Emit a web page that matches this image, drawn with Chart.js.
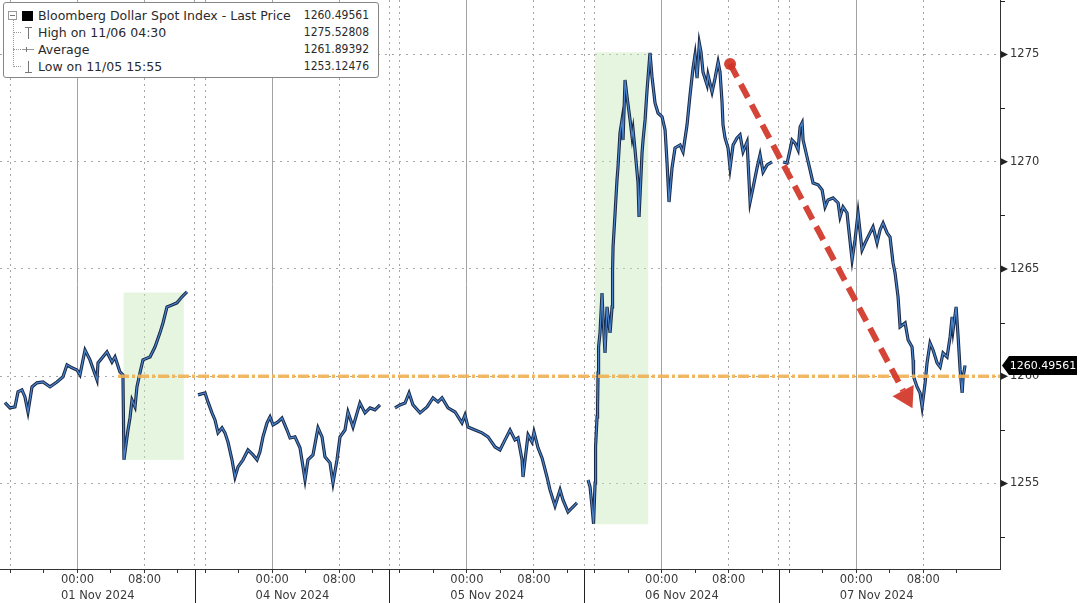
<!DOCTYPE html>
<html>
<head>
<meta charset="utf-8">
<title>Bloomberg Dollar Spot Index</title>
<script src="https://cdn.jsdelivr.net/npm/chart.js@4.4.1/dist/chart.umd.min.js"></script>
<style>
  html, body { margin: 0; padding: 0; background: #fff; }
  #wrap { position: relative; width: 1080px; height: 603px; overflow: hidden; }
  #legend { position: absolute; left: 3px; top: 2px; width: 376px; height: 76px; box-sizing: border-box;
            border: 1px solid #858585; border-radius: 3px; background: #fff;
            font-family: "DejaVu Sans", sans-serif; font-size: 12.5px; color: #2a2a2a; }
  #legend .row { position: absolute; left: 0; right: 0; height: 17px; line-height: 17px; white-space: nowrap; }
  #legend .name { position: absolute; left: 34px; top: 0; }
  #legend .val { position: absolute; right: 9px; top: 0; font-family: "DejaVu Sans Condensed", "DejaVu Sans", sans-serif; font-size: 12px; }
  #legend .tree { position: absolute; left: 9px; top: 16px; height: 48px; border-left: 1px dotted #9a9a9a; }
  #legend .branch { position: absolute; left: 9px; width: 8px; border-top: 1px dotted #9a9a9a; }
  #legend .minus { position: absolute; left: 4px; top: 8px; width: 7px; height: 7px; border: 1px solid #9a9a9a; background: #fff; }
  #legend .minus:after { content: ""; position: absolute; left: 1px; right: 1px; top: 3px; border-top: 1px solid #777; }
  #legend .sq { position: absolute; left: 18px; top: 4px; width: 11px; height: 10px; background: #000; }
  #legend .hi, #legend .lo { position: absolute; left: 21px; top: 3px; width: 7px; height: 11px; }
  #legend .hi { border-top: 1px solid #777; }
  #legend .lo { border-bottom: 1px solid #777; }
  #legend .hi:after, #legend .lo:after { content: ""; position: absolute; left: 3px; top: 0; bottom: 0; border-left: 1px solid #777; }
  #legend .avg { position: absolute; left: 18px; top: 8px; width: 12px; border-top: 1px solid #999; }
  #legend .avg:after { content: ""; position: absolute; left: 4px; top: -3px; width: 1px; height: 5px; background: #777; }
</style>
</head>
<body>
<div id="wrap">
  <canvas id="chart" width="1080" height="603"></canvas>
  <div id="legend"></div>
</div>
<script>
// sessions shown on the axis (each block opens 14:45 the previous day)
var sessionLabels = ["01 Nov 2024", "04 Nov 2024", "05 Nov 2024", "06 Nov 2024", "07 Nov 2024"];

// hours relative to the session's midnight, and index level
var nov01Hours = [-8.66, -8.06, -7.46, -7.10, -6.63, -6.27, -5.91, -5.43, -4.84, -4.12, -3.28, -2.45, -1.73, -1.25, -0.66,
  -0.06, 0.30, 0.90, 1.49, 2.33, 2.45, 3.52, 4.12, 4.48, 5.07, 5.43, 5.55, 5.79, 6.03, 6.27, 6.51, 6.87, 7.10, 7.46, 7.82,
  8.66, 9.25, 9.85, 10.21, 10.69, 11.28, 11.88, 12.48, 13.07];
var nov01Prices = [1258.77, 1258.52, 1258.57, 1259.27, 1259.36, 1259.03, 1258.33, 1259.50, 1259.69, 1259.73, 1259.50, 1259.73,
  1259.97, 1260.53, 1260.39, 1260.29, 1260.06, 1261.22, 1260.76, 1259.83, 1260.62, 1261.13, 1260.66, 1260.90, 1260.20,
  1260.06, 1256.10, 1256.80, 1257.49, 1258.05, 1258.89, 1258.57, 1259.50, 1260.15, 1260.76, 1260.90, 1261.36, 1262.02,
  1262.48, 1263.23, 1263.32, 1263.42, 1263.70, 1263.93];

var nov04Hours = [-8.86, -8.02, -7.67, -7.19, -6.83, -6.47, -5.99, -5.64, -5.28, -4.80, -4.44, -4.08, -3.49, -2.89, -2.29,
  -1.81, -1.46, -1.10, -0.62, -0.26, 0.10, 0.69, 1.17, 1.77, 2.13, 2.72, 3.32, 3.92, 4.27, 4.87, 5.47, 5.95, 6.30, 6.90,
  7.26, 7.74, 8.10, 8.69, 9.05, 9.65, 10.24, 10.48, 11.08, 11.68, 12.27, 12.87];
var nov04Prices = [1259.13, 1259.22, 1258.80, 1258.29, 1257.96, 1257.36, 1257.59, 1257.36, 1256.93, 1256.10, 1255.30, 1255.77,
  1256.10, 1256.56, 1256.33, 1256.10, 1256.47, 1257.17, 1257.82, 1258.10, 1257.73, 1257.87, 1258.05, 1257.49, 1257.12,
  1257.17, 1256.66, 1255.17, 1256.10, 1256.33, 1257.59, 1257.17, 1256.24, 1255.96, 1255.02, 1256.10, 1257.17, 1257.49,
  1258.33, 1257.63, 1258.43, 1258.75, 1258.29, 1258.52, 1258.43, 1258.66];

var nov05Hours = [-8.59, -7.99, -7.39, -6.91, -6.44, -5.60, -4.76, -4.05, -3.45, -2.97, -2.26, -1.42, -0.59, -0.23, 0.13,
  0.97, 1.80, 2.52, 3.36, 3.95, 4.55, 5.15, 5.74, 6.10, 6.58, 6.70, 6.94, 7.30, 7.77, 8.01, 8.49, 8.97, 9.56, 9.92, 10.52,
  11.12, 11.47, 12.07, 12.67, 13.14];
var nov05Prices = [1258.52, 1258.66, 1258.75, 1259.22, 1258.66, 1258.29, 1258.57, 1258.99, 1258.80, 1258.99, 1258.52, 1258.33,
  1257.82, 1258.19, 1257.63, 1257.49, 1257.36, 1257.17, 1256.70, 1256.56, 1257.03, 1257.49, 1257.03, 1257.12, 1256.10,
  1255.30, 1256.10, 1257.26, 1256.93, 1257.40, 1256.66, 1256.19, 1255.30, 1254.70, 1253.95, 1254.70, 1254.23, 1253.67,
  1253.91, 1254.09];

var nov06Hours = [-8.79, -8.55, -8.31, -8.13, -7.95, -7.89, -7.71, -7.65, -7.59, -7.53, -7.36, -7.12, -7.00, -6.76, -6.52,
  -6.16, -5.92, -5.86, -5.80, -5.56, -5.33, -5.21, -4.97, -4.73, -4.61, -4.37, -4.13, -3.77, -3.53, -3.41, -3.18, -2.82,
  -2.70, -2.34, -2.22, -1.98, -1.74, -1.39, -1.15, -0.79, -0.43, 0.05, 0.41, 0.64, 0.88, 1.24, 1.60, 2.20, 2.56, 3.03,
  3.39, 3.75, 3.99, 4.23, 4.50, 4.70, 4.94, 5.42, 5.54, 6.02, 6.38, 6.74, 6.97, 7.21, 7.33, 7.57, 7.93, 8.17, 8.53, 9.00,
  9.36, 9.72, 10.20, 10.56, 10.91, 11.39, 11.75, 12.11, 12.59, 13.18];
var nov06Prices = [1255.16, 1254.84, 1253.91, 1253.12, 1255.02, 1256.70, 1258.10, 1258.57, 1260.15, 1261.36, 1262.02, 1263.88,
  1262.76, 1261.08, 1263.23, 1262.02, 1263.23, 1264.95, 1266.03, 1267.61, 1269.15, 1269.76, 1271.34, 1271.95, 1271.01,
  1273.81, 1273.02, 1271.95, 1271.16, 1271.48, 1270.55, 1269.01, 1267.43, 1270.41, 1271.01, 1271.95, 1273.35, 1275.07,
  1273.95, 1272.74, 1272.27, 1272.09, 1271.48, 1269.99, 1268.12, 1269.71, 1270.64, 1270.78, 1270.46, 1271.71, 1273.11,
  1274.37, 1274.98, 1273.90, 1275.53, 1275.12, 1274.18, 1273.58, 1274.04, 1273.25, 1273.90, 1274.65, 1274.18, 1272.79,
  1271.71, 1271.11, 1270.64, 1269.71, 1270.78, 1271.11, 1271.25, 1270.46, 1270.92, 1268.12, 1268.78, 1269.71, 1270.32,
  1269.52, 1269.85, 1269.99];

var nov07Hours = [-8.75, -8.27, -7.92, -7.68, -7.32, -6.96, -6.72, -6.48, -6.36, -5.89, -5.53, -5.17, -4.57, -4.09, -3.74,
  -3.38, -2.78, -2.18, -1.95, -1.59, -1.11, -0.99, -0.51, -0.16, 0.20, 0.68, 1.04, 1.63, 1.99, 2.47, 2.83, 3.19, 3.67,
  4.02, 4.38, 4.62, 4.98, 5.22, 5.82, 6.18, 6.65, 6.77, 6.83, 7.25, 7.61, 7.85, 8.21, 8.44, 8.80, 9.16, 9.64, 10.00,
  10.35, 10.83, 11.19, 11.43, 11.55, 11.91, 12.15, 12.39, 12.63, 12.75, 12.98];
var nov07Prices = [1269.99, 1269.94, 1270.55, 1271.01, 1270.87, 1270.55, 1271.62, 1271.81, 1271.01, 1270.22, 1269.62, 1269.01,
  1268.92, 1268.68, 1267.89, 1268.22, 1268.31, 1268.08, 1267.43, 1267.89, 1267.61, 1267.14, 1265.42, 1266.35, 1267.61,
  1265.89, 1266.21, 1266.68, 1266.96, 1266.21, 1266.82, 1267.14, 1266.68, 1266.49, 1265.28, 1264.81, 1263.69, 1262.30,
  1262.48, 1261.69, 1261.36, 1260.76, 1259.97, 1259.50, 1259.22, 1258.57, 1259.69, 1260.62, 1261.55, 1261.22, 1260.62,
  1260.43, 1261.08, 1260.90, 1261.83, 1262.76, 1262.16, 1263.23, 1261.83, 1260.29, 1259.22, 1259.97, 1260.49561];

var sessionHours = [nov01Hours, nov04Hours, nov05Hours, nov06Hours, nov07Hours];
var sessionPrices = [nov01Prices, nov04Prices, nov05Prices, nov06Prices, nov07Prices];

// axis marks: hours from midnight (16:00 prev day .. 12:00)
var markHours = [-8, -4, 0, 4, 8, 12];
var markLabels = { "0": "00:00", "8": "08:00" };
var yMajor = [1255, 1260, 1265, 1270, 1275];

// orange reference level
var levelPrice = 1260.0;
var levelStart = [0, 4.84];   // [session, hour]

// green highlight boxes
var shadeSession = [0, 3];
var shadeFromHour = [5.5, -7.95];
var shadeToHour = [12.7, -1.6];
var shadeLow = [1256.1, 1253.1];
var shadeHigh = [1263.9, 1275.1];

// red trend arrow
var arrowSession = [3, 4];
var arrowHour = [8.17, 6.7];
var arrowPrice = [1274.56, 1258.5];

var legendNames = ["Bloomberg Dollar Spot Index - Last Price", "High on 11/06 04:30", "Average", "Low on 11/05 15:55"];
var legendValues = ["1260.49561", "1275.52808", "1261.89392", "1253.12476"];
var lastPrice = 1260.49561;

var SESSION_LEN = 23.25;  // hours per block on the axis
var MIDNIGHT = 9.25;      // 00:00 sits this far into each block
var X_MAX = 119.4;
var Y_MIN = 1251.01;
var Y_MAX = 1277.54;
var FONT = '"DejaVu Sans", sans-serif';

function toX(session, hour) {
  return session * SESSION_LEN + MIDNIGHT + hour;
}

// legend
(function () {
  var icons = ["sq", "hi", "avg", "lo"];
  var tops = [4, 21, 38, 55];
  var html = '<div class="tree"></div><div class="minus"></div>';
  for (var i = 0; i < legendNames.length; i++) {
    if (i > 0) html += '<div class="branch" style="top:' + (tops[i] + 8) + 'px"></div>';
    html += '<div class="row" style="top:' + tops[i] + 'px"><span class="' + icons[i] + '"></span>' +
      '<span class="name">' + legendNames[i] + '</span><span class="val">' + legendValues[i] + '</span></div>';
  }
  document.getElementById("legend").innerHTML = html;
})();

// price series with breaks between sessions
var priceData = [];
sessionHours.forEach(function (hours, s) {
  if (s > 0) priceData.push({ x: s * SESSION_LEN, y: null });
  hours.forEach(function (h, i) {
    priceData.push({ x: toX(s, h), y: sessionPrices[s][i] });
  });
});

var levelData = [
  { x: toX(levelStart[0], levelStart[1]), y: levelPrice },
  { x: X_MAX, y: levelPrice }
];

function tickKind(ctx) {
  return ctx && ctx.tick ? ctx.tick.kind : null;
}

var decorPlugin = {
  id: "decor",
  beforeDatasetsDraw: function (chart) {
    var ctx = chart.ctx, x = chart.scales.x, y = chart.scales.y;
    ctx.save();
    ctx.fillStyle = "rgba(200, 232, 184, 0.45)";
    shadeSession.forEach(function (s, i) {
      var x0 = x.getPixelForValue(toX(s, shadeFromHour[i]));
      var x1 = x.getPixelForValue(toX(s, shadeToHour[i]));
      var y0 = y.getPixelForValue(shadeHigh[i]);
      var y1 = y.getPixelForValue(shadeLow[i]);
      ctx.fillRect(x0, y0, x1 - x0, y1 - y0);
    });
    ctx.restore();
  },
  afterDatasetsDraw: function (chart) {
    var ctx = chart.ctx, x = chart.scales.x, y = chart.scales.y;
    var ax = x.getPixelForValue(toX(arrowSession[0], arrowHour[0]));
    var ay = y.getPixelForValue(arrowPrice[0]);
    var bx = x.getPixelForValue(toX(arrowSession[1], arrowHour[1]));
    var by = y.getPixelForValue(arrowPrice[1]);
    var ang = Math.atan2(by - ay, bx - ax);
    var headLen = 20, headHalf = 12;
    var ex = bx - headLen * Math.cos(ang), ey = by - headLen * Math.sin(ang);
    var red = "rgba(208, 52, 38, 0.92)";
    ctx.save();
    ctx.strokeStyle = red;
    ctx.fillStyle = red;
    ctx.lineWidth = 6;
    ctx.setLineDash([15, 8]);
    ctx.beginPath();
    ctx.moveTo(ax, ay);
    ctx.lineTo(ex, ey);
    ctx.stroke();
    ctx.setLineDash([]);
    ctx.beginPath();
    ctx.arc(ax, ay, 6, 0, Math.PI * 2);
    ctx.fill();
    ctx.beginPath();
    ctx.moveTo(bx, by);
    ctx.lineTo(ex - headHalf * Math.sin(ang), ey + headHalf * Math.cos(ang));
    ctx.lineTo(ex + headHalf * Math.sin(ang), ey - headHalf * Math.cos(ang));
    ctx.closePath();
    ctx.fill();
    ctx.restore();
  },
  afterDraw: function (chart) {
    var ctx = chart.ctx, x = chart.scales.x, y = chart.scales.y, area = chart.chartArea;
    ctx.save();
    // session separators under the time axis
    ctx.strokeStyle = "#222";
    ctx.lineWidth = 1;
    for (var s = 1; s < sessionLabels.length; s++) {
      var sx = Math.round(x.getPixelForValue(s * SESSION_LEN)) + 0.5;
      ctx.beginPath();
      ctx.moveTo(sx, area.bottom);
      ctx.lineTo(sx, chart.height);
      ctx.stroke();
    }
    // date labels
    ctx.font = "11.5px " + FONT;
    ctx.fillStyle = "#3a3a3a";
    ctx.textBaseline = "middle";
    ctx.textAlign = "left";
    var half = ctx.measureText("00:00").width / 2;
    sessionLabels.forEach(function (label, i) {
      ctx.fillText(label, x.getPixelForValue(toX(i, 0)) - half, 596);
    });
    // price axis markers
    var axisX = area.right;
    ctx.fillStyle = "#222";
    ctx.strokeStyle = "#222";
    for (var v = 1252.5; v <= Y_MAX; v += 2.5) {
      var py = y.getPixelForValue(v);
      if (yMajor.indexOf(v) >= 0) {
        ctx.beginPath();
        ctx.moveTo(axisX + 1, py - 3.5);
        ctx.lineTo(axisX + 1, py + 3.5);
        ctx.lineTo(axisX + 8, py);
        ctx.closePath();
        ctx.fill();
      } else {
        ctx.beginPath();
        ctx.moveTo(axisX, Math.round(py) + 0.5);
        ctx.lineTo(axisX + 5, Math.round(py) + 0.5);
        ctx.stroke();
      }
    }
    // last price tag
    var ly = y.getPixelForValue(lastPrice);
    ctx.fillStyle = "#000";
    ctx.beginPath();
    ctx.moveTo(axisX + 2, ly);
    ctx.lineTo(axisX + 9, ly - 9.5);
    ctx.lineTo(chart.width - 3, ly - 9.5);
    ctx.lineTo(chart.width - 3, ly + 9.5);
    ctx.lineTo(axisX + 9, ly + 9.5);
    ctx.closePath();
    ctx.fill();
    ctx.fillStyle = "#fff";
    ctx.font = "11px " + FONT;
    ctx.textAlign = "center";
    ctx.fillText(lastPrice.toFixed(5), (axisX + 9 + chart.width - 3) / 2, ly + 0.5);
    ctx.restore();
  }
};

new Chart(document.getElementById("chart"), {
  type: "line",
  data: {
    datasets: [
      {
        label: "Level",
        data: levelData,
        borderColor: "rgba(240, 176, 84, 0.9)",
        borderWidth: 3.5,
        borderDash: [11, 3, 3, 3],
        pointRadius: 0,
        order: 0
      },
      {
        label: "Last Price",
        data: priceData,
        borderColor: "#4a86cf",
        borderWidth: 1.2,
        pointRadius: 0,
        spanGaps: false,
        order: 1
      },
      {
        label: "Last Price outline",
        data: priceData,
        borderColor: "#1b2946",
        borderWidth: 3.2,
        pointRadius: 0,
        spanGaps: false,
        order: 2
      }
    ]
  },
  options: {
    responsive: false,
    animation: false,
    layout: { padding: 0 },
    plugins: {
      legend: { display: false },
      tooltip: { enabled: false }
    },
    scales: {
      x: {
        type: "linear",
        min: 0,
        max: X_MAX,
        afterBuildTicks: function (scale) {
          var ticks = [];
          sessionLabels.forEach(function (label, s) {
            if (s > 0) ticks.push({ value: s * SESSION_LEN, kind: "sep" });
            markHours.forEach(function (h) {
              ticks.push({ value: toX(s, h), kind: "h" + h });
            });
          });
          scale.ticks = ticks;
        },
        afterFit: function (scale) { scale.height = 34; },
        ticks: {
          autoSkip: false,
          maxRotation: 0,
          padding: 0,
          color: "#3a3a3a",
          font: { family: FONT, size: 11.5 },
          callback: function (value, index, ticks) {
            var k = ticks[index].kind;
            if (k === "h0") return markLabels["0"];
            if (k === "h8") return markLabels["8"];
            return "";
          }
        },
        grid: {
          drawOnChartArea: true,
          tickLength: 4,
          lineWidth: 1,
          color: function (ctx) {
            var k = tickKind(ctx);
            if (k === "h0") return "#a3a3a3";
            if (k === "h8" || k === "h-8" || k === "sep") return "#a6a6a6";
            return "rgba(0,0,0,0)";
          },
          tickColor: function (ctx) {
            return tickKind(ctx) === "sep" ? "rgba(0,0,0,0)" : "#333";
          }
        },
        border: {
          display: true,
          color: "#333",
          width: 1,
          dash: function (ctx) {
            return tickKind(ctx) === "h0" ? [] : [2, 4];
          }
        }
      },
      y: {
        type: "linear",
        position: "right",
        min: Y_MIN,
        max: Y_MAX,
        afterBuildTicks: function (scale) {
          var ticks = [];
          for (var v = 1252.5; v <= Y_MAX; v += 2.5) ticks.push({ value: v });
          scale.ticks = ticks;
        },
        afterFit: function (scale) { scale.width = 80; },
        ticks: {
          padding: 0,
          color: "#333",
          font: { family: FONT, size: 11.5 },
          callback: function (value) {
            return yMajor.indexOf(value) >= 0 ? String(value) : [];
          }
        },
        grid: {
          tickLength: 10,
          tickColor: "rgba(0,0,0,0)",
          color: function (ctx) {
            return ctx.tick && yMajor.indexOf(ctx.tick.value) >= 0 ? "#a8a8a8" : "rgba(0,0,0,0)";
          }
        },
        border: {
          display: true,
          color: "#333",
          width: 1,
          dash: [2, 5]
        }
      }
    }
  },
  plugins: [decorPlugin]
});
</script>
</body>
</html>
